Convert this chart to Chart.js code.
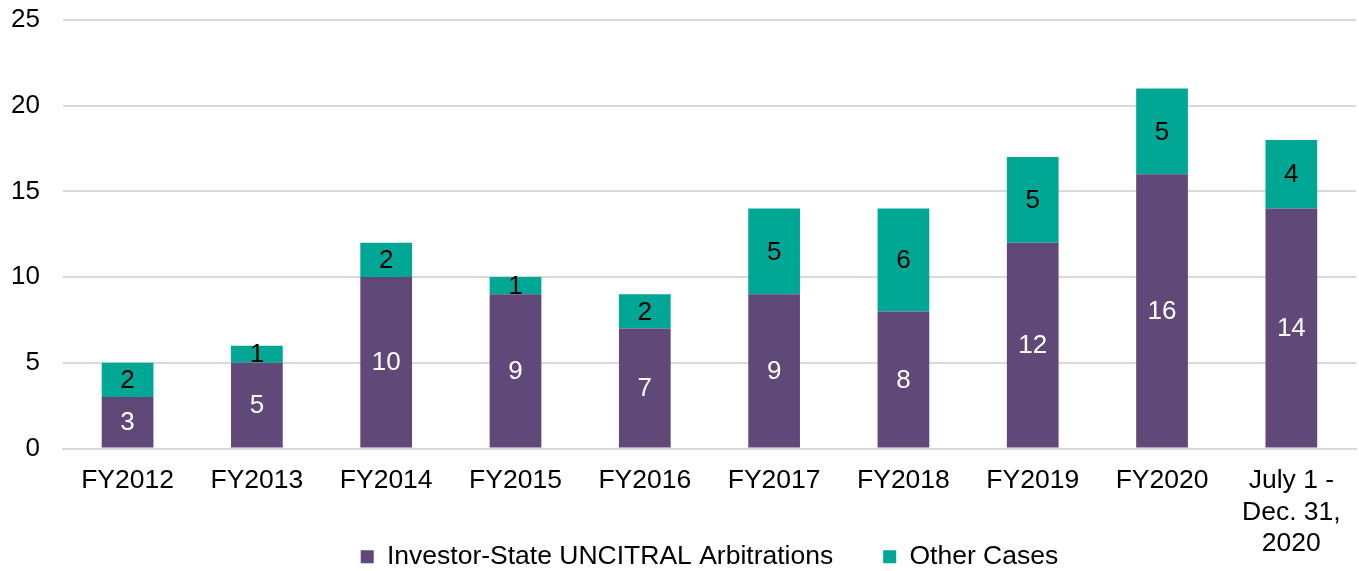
<!DOCTYPE html>
<html lang="en">
<head>
  <meta charset="UTF-8">
  <title>UNCITRAL Cases</title>
  <script src="https://cdn.jsdelivr.net/npm/chart.js"></script>
  <style>
    html, body { margin: 0; padding: 0; background: #fff; }
    #wrap { width: 1359px; height: 571px; }
  </style>
</head>
<body>
  <div id="wrap"><canvas id="casesChart"></canvas></div>
  <script>
    // categories and series
    const periods = ['FY2012', 'FY2013', 'FY2014', 'FY2015', 'FY2016', 'FY2017', 'FY2018', 'FY2019', 'FY2020', ['July 1 -', 'Dec. 31,', '2020']];
    const investorState = [3, 5, 10, 9, 7, 9, 8, 12, 16, 14];
    const otherCases = [2, 1, 2, 1, 2, 5, 6, 5, 5, 4];

    const FONT = "'Liberation Sans', Arial, sans-serif";

    // write the value in the middle of each bar segment
    const segmentLabels = {
      id: 'segmentLabels',
      afterDatasetsDraw(chart) {
        const ctx = chart.ctx;
        ctx.save();
        ctx.font = '26px ' + FONT;
        ctx.textAlign = 'center';
        ctx.textBaseline = 'middle';
        chart.data.datasets.forEach((ds, i) => {
          const meta = chart.getDatasetMeta(i);
          meta.data.forEach((bar, j) => {
            ctx.fillStyle = i === 0 ? '#ffffff' : '#000000';
            ctx.fillText(ds.data[j], bar.x, (bar.y + bar.base) / 2 + 1);
          });
        });
        ctx.restore();
      }
    };

    const ctx = document.getElementById('casesChart').getContext('2d');
    new Chart(ctx, {
      type: 'bar',
      data: {
        labels: periods,
        datasets: [{
          label: 'Investor-State UNCITRAL Arbitrations',
          data: investorState,
          backgroundColor: '#604878',
          barPercentage: 0.4,
          categoryPercentage: 1
        }, {
          label: 'Other Cases',
          data: otherCases,
          backgroundColor: '#00A794',
          barPercentage: 0.4,
          categoryPercentage: 1
        }]
      },
      options: {
        responsive: true,
        maintainAspectRatio: false,
        animation: false,
        layout: { padding: { left: 11, right: 3, top: 20, bottom: -9 } },
        plugins: {
          tooltip: { enabled: false },
          legend: {
            position: 'bottom',
            fullSize: false,
            labels: {
              color: '#000',
              font: { family: FONT, size: 26.5 },
              boxWidth: 13,
              boxHeight: 13,
              padding: 50
            }
          }
        },
        scales: {
          x: {
            stacked: true,
            grid: { display: false, drawTicks: false },
            border: { color: '#D9D9D9', width: 2 },
            ticks: {
              color: '#000',
              font: { family: FONT, size: 26.5 },
              padding: 16,
              maxRotation: 0,
              autoSkip: false
            },
            afterFit(scale) {
              // let the legend sit beside the wrapped last label, like the original
              scale.height = 45;
              scale._computeLabelArea = () => undefined;
            }
          },
          y: {
            stacked: true,
            min: 0,
            max: 25,
            grid: { color: '#D9D9D9', lineWidth: 2, drawTicks: true, tickLength: 23, tickColor: 'rgba(0,0,0,0)' },
            border: { display: false },
            ticks: {
              stepSize: 5,
              color: '#000',
              font: { family: FONT, size: 26 },
              padding: 0
            }
          }
        }
      },
      plugins: [segmentLabels]
    });
  </script>
</body>
</html>
